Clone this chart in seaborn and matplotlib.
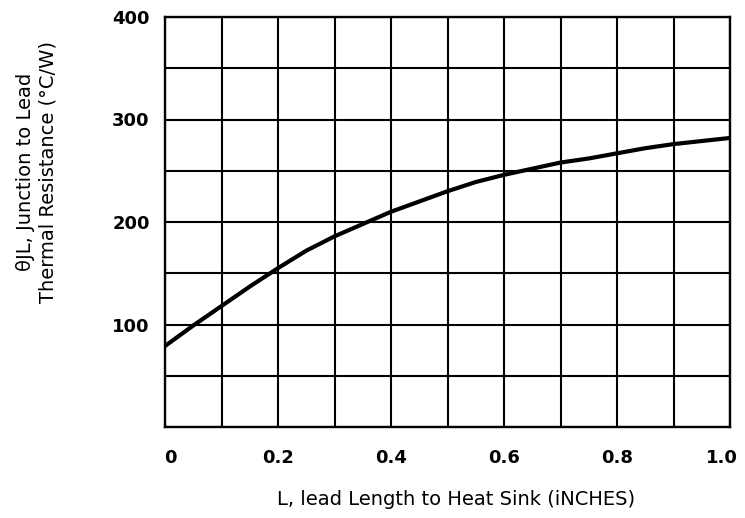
import matplotlib
matplotlib.use("Agg")
import matplotlib.pyplot as plt
import matplotlib.transforms as mtransforms
import seaborn as sns
import numpy as np
import pandas as pd
from matplotlib.ticker import FixedLocator, MultipleLocator

# Data
lead_length = [0, 0.05, 0.1, 0.15, 0.2, 0.25, 0.3, 0.35, 0.4, 0.45, 0.5,
               0.55, 0.6, 0.65, 0.7, 0.75, 0.8, 0.85, 0.9, 0.95, 1.0]
thermal_res = [79, 99, 118, 137, 155, 172, 186, 198, 210, 220, 230,
               239, 246, 252, 258, 262, 267, 272, 276, 279, 282]
x_tick_values = [0, 0.2, 0.4, 0.6, 0.8, 1.0]
x_tick_labels = ["0", "0.2", "0.4", "0.6", "0.8", "1.0"]
y_tick_values = [100, 200, 300, 400]
y_tick_labels = ["100", "200", "300", "400"]

df = pd.DataFrame({"L": lead_length, "R": thermal_res})

sns.set_style("white")
plt.rcParams["font.family"] = ["DejaVu Sans"]
plt.rcParams["text.color"] = "black"
plt.rcParams["axes.labelcolor"] = "black"
plt.rcParams["xtick.color"] = "black"
plt.rcParams["ytick.color"] = "black"

fig = plt.figure(figsize=(7.45, 5.18), dpi=100)
ax = fig.add_axes([165 / 745, 1 - 427 / 518, 565 / 745, 410 / 518])

sns.lineplot(data=df, x="L", y="R", ax=ax, color="black", linewidth=3.0, zorder=3)

ax.set_xlim(0, 1.0)
ax.set_ylim(0, 400)

ax.xaxis.set_major_locator(FixedLocator(x_tick_values))
ax.set_xticklabels(x_tick_labels)
ax.yaxis.set_major_locator(FixedLocator(y_tick_values))
ax.set_yticklabels(y_tick_labels)
ax.xaxis.set_minor_locator(MultipleLocator(0.1))
ax.yaxis.set_minor_locator(MultipleLocator(50))

ax.grid(True, which="both", color="black", linewidth=1.5)
ax.set_axisbelow(True)
for s in ax.spines.values():
    s.set_visible(True)
    s.set_color("black")
    s.set_linewidth(1.7)

ax.tick_params(axis="both", which="both", length=0, colors="black")
ax.tick_params(axis="x", pad=16)
ax.tick_params(axis="y", pad=11)
for lab in ax.get_xticklabels() + ax.get_yticklabels():
    lab.set_fontweight("bold")
    lab.set_fontsize(13)
    lab.set_color("black")

# nudge the end labels inward as in the reference
xlabs = ax.get_xticklabels()
xlabs[0].set_transform(xlabs[0].get_transform() +
                       mtransforms.ScaledTranslation(5 / 100, 0, fig.dpi_scale_trans))
xlabs[-1].set_transform(xlabs[-1].get_transform() +
                        mtransforms.ScaledTranslation(-8 / 100, 0, fig.dpi_scale_trans))

ax.set_xlabel("L, lead Length to Heat Sink (iNCHES)", fontsize=14, color="black")
ax.xaxis.set_label_coords(0.515, -0.154)
ax.set_ylabel("θJL, Junction to Lead\nThermal Resistance (°C/W)", fontsize=14,
              linespacing=1.2, color="black")
ax.yaxis.set_label_coords(-0.191, 0.622)

fig.savefig("out.png", dpi=100, facecolor="white")
